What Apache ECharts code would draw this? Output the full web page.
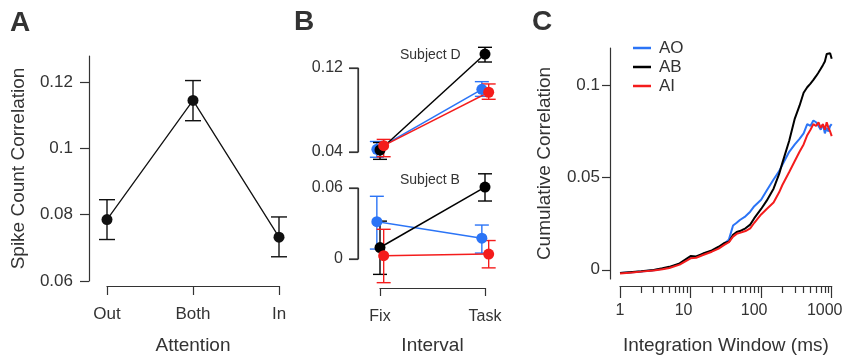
<!DOCTYPE html>
<html>
<head>
<meta charset="utf-8">
<script src="https://cdn.jsdelivr.net/npm/echarts@6/dist/echarts.min.js"></script>
<style>
  html, body { margin: 0; padding: 0; background: #fff; }
  #chart { width: 846px; height: 360px; }
</style>
</head>
<body>
<div id="chart"></div>
<script>
// ---- panel A: attention conditions
const attention = ['Out', 'Both', 'In'];
const attnMean = [0.0785, 0.1144, 0.0732];
const attnLow = [0.0725, 0.1083, 0.0673];
const attnHigh = [0.0845, 0.1204, 0.0793];
const attnTicks = [0.06, 0.08, 0.1, 0.12];

// ---- panel B: interval, two subjects
const intervals = ['Fix', 'Task'];
const dTicks = [0.04, 0.12];
const dAO = [0.0426, 0.0997], dAOLow = [0.035, 0.093], dAOHigh = [0.050, 0.107];
const dAB = [0.0419, 0.1333], dABLow = [0.033, 0.1257], dABHigh = [0.049, 0.1397];
const dAI = [0.046, 0.0969], dAILow = [0.0355, 0.0902], dAIHigh = [0.052, 0.1048];
const bTicks = [0, 0.06];
const bAO = [0.0315, 0.0176], bAOLow = [0.0084, 0.005], bAOHigh = [0.053, 0.0287];
const bAB = [0.0097, 0.0608], bABLow = [-0.013, 0.049], bABHigh = [0.032, 0.072];
const bAI = [0.0028, 0.0042], bAILow = [-0.020, -0.0075], bAIHigh = [0.0251, 0.0156];

// ---- panel C: cumulative correlation vs integration window
const windows = [1, 1.5, 2, 3, 4, 5, 7, 10, 12, 15, 20, 25, 30, 35, 40, 45, 50, 60, 70, 80,
  100, 120, 150, 180, 200, 250, 300, 350, 400, 450, 500, 550, 600, 650, 700, 750, 800, 850, 900, 950, 1000];
const curveAO = [-0.0018, -0.0013, -0.0009, -0.0002, 0.0006, 0.0013, 0.0032, 0.0068, 0.007, 0.0085,
  0.0102, 0.012, 0.014, 0.0165, 0.024, 0.0255, 0.027, 0.029, 0.0315, 0.0345,
  0.038, 0.043, 0.049, 0.0535, 0.057, 0.064, 0.068, 0.071, 0.074, 0.079,
  0.078, 0.081, 0.080, 0.078, 0.076, 0.079, 0.074, 0.077, 0.075, 0.078, 0.079];
const curveAB = [-0.0018, -0.0012, -0.0008, -0.0001, 0.0008, 0.0016, 0.0035, 0.0075, 0.0072, 0.0088,
  0.0105, 0.0125, 0.0145, 0.0152, 0.019, 0.0205, 0.021, 0.0225, 0.0245, 0.028,
  0.033, 0.0375, 0.044, 0.052, 0.058, 0.070, 0.082, 0.089, 0.096, 0.099,
  0.101, 0.103, 0.105, 0.107, 0.109, 0.111, 0.113, 0.117, 0.116, 0.1175, 0.1145];
const curveAI = [-0.002, -0.0015, -0.001, -0.0004, 0.0003, 0.001, 0.0028, 0.0062, 0.0065, 0.008,
  0.0098, 0.0115, 0.0135, 0.015, 0.018, 0.0195, 0.020, 0.021, 0.0225, 0.0255,
  0.030, 0.033, 0.0365, 0.042, 0.046, 0.053, 0.059, 0.064, 0.068, 0.073,
  0.076, 0.079, 0.078, 0.080, 0.077, 0.079, 0.076, 0.080, 0.077, 0.075, 0.0725];
const corrTicks = [0, 0.05, 0.1];
const minorWindows = [2, 3, 4, 5, 6, 7, 8, 9, 20, 30, 40, 50, 60, 70, 80, 90, 200, 300, 400, 500, 600, 700, 800, 900];

const font = 'Liberation Sans';
const ink = '#333';
const blue = '#2b74f6';
const red = '#f41c1c';
const black = '#000';
// small horizontal shift so overlapping points in B stay visible
const jitter = { AO: -0.03, AB: 0, AI: 0.035 };
const frameOffset = 22; // gap between panel-B y frame and first category

const chart = echarts.init(document.getElementById('chart'));

function label(size, margin) {
  return { fontSize: size, color: ink, fontFamily: font, margin: margin };
}
const nameStyle = () => ({ fontSize: 19, color: ink, fontFamily: font });
const axisLine = () => ({ show: true, onZero: false, lineStyle: { color: ink, width: 1.2 } });
const tickStyle = () => ({ color: ink, width: 1.2 });

function errorBars(name, gridIdx, points, color, cap) {
  return {
    type: 'custom', name: name, xAxisIndex: gridIdx, yAxisIndex: gridIdx,
    clip: false, silent: true, z: 2,
    data: points,
    renderItem: function (params, api) {
      const x = api.value(0);
      const lo = api.coord([x, api.value(2)]);
      const hi = api.coord([x, api.value(3)]);
      const st = { stroke: color, lineWidth: 1.4 };
      return {
        type: 'group',
        children: [
          { type: 'line', shape: { x1: lo[0], y1: lo[1], x2: hi[0], y2: hi[1] }, style: st },
          { type: 'line', shape: { x1: lo[0] - cap, y1: lo[1], x2: lo[0] + cap, y2: lo[1] }, style: st },
          { type: 'line', shape: { x1: hi[0] - cap, y1: hi[1], x2: hi[0] + cap, y2: hi[1] }, style: st }
        ]
      };
    }
  };
}

// y frame of a panel-B block: line between the two tick values plus tick marks
function frame(gridIdx, ticks) {
  return {
    type: 'custom', name: 'frame' + gridIdx, xAxisIndex: gridIdx, yAxisIndex: gridIdx,
    clip: false, silent: true, zlevel: 1, z: 10,
    data: [[0, ticks[0], ticks[ticks.length - 1]]],
    renderItem: function (params, api) {
      const lo = api.coord([0, api.value(1)]);
      const hi = api.coord([0, api.value(2)]);
      const x = lo[0] - frameOffset;
      const st = { stroke: ink, lineWidth: 1.2 };
      return {
        type: 'group',
        children: [
          { type: 'line', shape: { x1: x, y1: lo[1], x2: x, y2: hi[1] }, style: st },
          { type: 'line', shape: { x1: x - 9, y1: lo[1], x2: x, y2: lo[1] }, style: st },
          { type: 'line', shape: { x1: x - 9, y1: hi[1], x2: x, y2: hi[1] }, style: st }
        ]
      };
    }
  };
}

function dotLine(name, gridIdx, points, color, width) {
  return {
    type: 'line', name: name, xAxisIndex: gridIdx, yAxisIndex: gridIdx,
    data: points, clip: false, silent: true, z: 3,
    symbol: 'circle', symbolSize: 11, showSymbol: true,
    lineStyle: { color: color, width: width },
    itemStyle: { color: color }
  };
}

// rows of [x, mean, low, high]
const rowsA = attention.map((c, i) => [i, attnMean[i], attnLow[i], attnHigh[i]]);
function rowsB(key, mean, low, high) {
  return intervals.map((c, i) => [i + jitter[key], mean[i], low[i], high[i]]);
}
const pairs = (key, mean) => intervals.map((c, i) => [i + jitter[key], mean[i]]);
const curve = ys => windows.map((w, i) => [w, ys[i]]);

function yAxisFor(gridIdx, min, max, ticks, offset, margin, size, tickLen) {
  return {
    type: 'value', gridIndex: gridIdx, min: min, max: max, offset: offset,
    axisLine: axisLine(),
    axisTick: { show: true, length: tickLen, customValues: ticks, lineStyle: tickStyle() },
    axisLabel: Object.assign(label(size, margin), { customValues: ticks }),
    splitLine: { show: false }
  };
}

// panel-B y axis, drawn on its own layer as well
function yAxisB(gridIdx, min, max, ticks) {
  return {
    type: 'value', gridIndex: gridIdx, min: min, max: max, offset: frameOffset,
    zlevel: 1, z: 10,
    axisLine: axisLine(),
    axisTick: { show: true, length: 9, customValues: ticks, lineStyle: tickStyle() },
    axisLabel: Object.assign(label(16, 15), { customValues: ticks }),
    splitLine: { show: false }
  };
}

const yA = yAxisFor(0, 0.06, 0.1278, attnTicks, 18, 16, 17, 9);
Object.assign(yA, {
  name: 'Spike Count Correlation', nameLocation: 'middle', nameGap: 61,
  nameMoveOverlap: false, nameTextStyle: nameStyle()
});
const yC = yAxisFor(3, -0.005, 0.1203, corrTicks, 10, 10, 17, 8);
Object.assign(yC, {
  name: 'Cumulative Correlation', nameLocation: 'middle', nameGap: 56,
  nameMoveOverlap: false, nameTextStyle: nameStyle()
});

const option = {
  animation: false,
  textStyle: { fontFamily: font },
  grid: [
    { left: 107, top: 56, width: 172, height: 226 },
    { left: 380, top: 68, width: 105, height: 84 },
    { left: 380, top: 188, width: 105, height: 71 },
    { left: 620, top: 48, width: 211.7, height: 233 }
  ],
  xAxis: [
    {
      type: 'category', gridIndex: 0, data: attention, boundaryGap: false, offset: 5,
      axisLine: axisLine(),
      axisTick: { show: true, length: 9, alignWithLabel: true, lineStyle: tickStyle() },
      axisLabel: label(17, 20),
      splitLine: { show: false },
      name: 'Attention', nameLocation: 'middle', nameGap: 50, nameMoveOverlap: false,
      nameTextStyle: nameStyle()
    },
    {
      type: 'value', gridIndex: 1, min: 0, max: 1, interval: 1, show: false, splitLine: { show: false }
    },
    {
      type: 'value', gridIndex: 2, min: 0, max: 1, interval: 1, offset: 29,
      axisLine: axisLine(),
      axisTick: { show: true, length: 8, lineStyle: tickStyle() },
      axisLabel: Object.assign(label(16, 21), { formatter: v => intervals[Math.round(v)] }),
      splitLine: { show: false },
      name: 'Interval', nameLocation: 'middle', nameGap: 48, nameMoveOverlap: false,
      nameTextStyle: nameStyle()
    },
    {
      type: 'log', gridIndex: 3, min: 1, max: 1000, logBase: 10, offset: 7,
      axisLine: axisLine(),
      axisTick: { show: true, length: 12, lineStyle: tickStyle() },
      axisLabel: Object.assign(label(16, 17), {
        formatter: v => (Math.round(v) > 1 ? '{s|' + Math.round(v) + '}' : String(Math.round(v))),
        rich: { s: { fontSize: 16, color: ink, fontFamily: font, padding: [0, 14, 0, 0] } }
      }),
      splitLine: { show: false },
      name: 'Integration Window (ms)', nameLocation: 'middle', nameGap: 50, nameMoveOverlap: false,
      nameTextStyle: nameStyle()
    },
    {
      type: 'log', gridIndex: 3, min: 1, max: 1000, logBase: 10, offset: 7, position: 'bottom',
      axisLine: { show: false, onZero: false },
      axisTick: { show: true, length: 7, customValues: minorWindows, lineStyle: tickStyle() },
      axisLabel: { show: false },
      splitLine: { show: false }
    }
  ],
  yAxis: [
    yA,
    yAxisB(1, 0.04, 0.12, dTicks),
    yAxisB(2, 0, 0.06, bTicks),
    yC
  ],
  legend: {
    data: ['AO', 'AB', 'AI'],
    orient: 'vertical', left: 633, top: 39, padding: 0,
    icon: 'rect', itemWidth: 18, itemHeight: 2.5, itemGap: 1,
    selectedMode: false,
    textStyle: { fontSize: 17, color: ink, fontFamily: font, lineHeight: 18, padding: [0, 0, 0, 3] }
  },
  graphic: [
    { type: 'text', left: 10, top: 9, style: { text: 'A', font: 'bold 28px "Liberation Sans"', fill: ink } },
    { type: 'text', left: 294, top: 8, style: { text: 'B', font: 'bold 28px "Liberation Sans"', fill: ink } },
    { type: 'text', left: 532, top: 8, style: { text: 'C', font: 'bold 28px "Liberation Sans"', fill: ink } },
    { type: 'text', left: 400, top: 48, style: { text: 'Subject D', font: '14px "Liberation Sans"', fill: ink } },
    { type: 'text', left: 400, top: 173, style: { text: 'Subject B', font: '14px "Liberation Sans"', fill: ink } }
  ],
  series: [
    // A
    errorBars('attn-err', 0, rowsA, '#111', 8),
    dotLine('attn', 0, attention.map((c, i) => [i, attnMean[i]]), '#111', 1.3),
    // B frames
    frame(1, dTicks),
    frame(2, bTicks),
    // B, subject D
    errorBars('D-AO-err', 1, rowsB('AO', dAO, dAOLow, dAOHigh), blue, 7),
    dotLine('D-AO', 1, pairs('AO', dAO), blue, 1.5),
    errorBars('D-AB-err', 1, rowsB('AB', dAB, dABLow, dABHigh), black, 7),
    dotLine('D-AB', 1, pairs('AB', dAB), black, 1.5),
    errorBars('D-AI-err', 1, rowsB('AI', dAI, dAILow, dAIHigh), red, 7),
    dotLine('D-AI', 1, pairs('AI', dAI), red, 1.5),
    // B, subject B
    errorBars('B-AO-err', 2, rowsB('AO', bAO, bAOLow, bAOHigh), blue, 7),
    dotLine('B-AO', 2, pairs('AO', bAO), blue, 1.5),
    errorBars('B-AB-err', 2, rowsB('AB', bAB, bABLow, bABHigh), black, 7),
    dotLine('B-AB', 2, pairs('AB', bAB), black, 1.5),
    errorBars('B-AI-err', 2, rowsB('AI', bAI, bAILow, bAIHigh), red, 7),
    dotLine('B-AI', 2, pairs('AI', bAI), red, 1.5),
    // C
    { type: 'line', name: 'AO', xAxisIndex: 3, yAxisIndex: 3, data: curve(curveAO), symbol: 'none',
      silent: true, lineStyle: { color: blue, width: 2 }, itemStyle: { color: blue } },
    { type: 'line', name: 'AB', xAxisIndex: 3, yAxisIndex: 3, data: curve(curveAB), symbol: 'none',
      silent: true, lineStyle: { color: black, width: 2 }, itemStyle: { color: black } },
    { type: 'line', name: 'AI', xAxisIndex: 3, yAxisIndex: 3, data: curve(curveAI), symbol: 'none',
      silent: true, lineStyle: { color: red, width: 2 }, itemStyle: { color: red } }
  ]
};

chart.setOption(option);
</script>
</body>
</html>
